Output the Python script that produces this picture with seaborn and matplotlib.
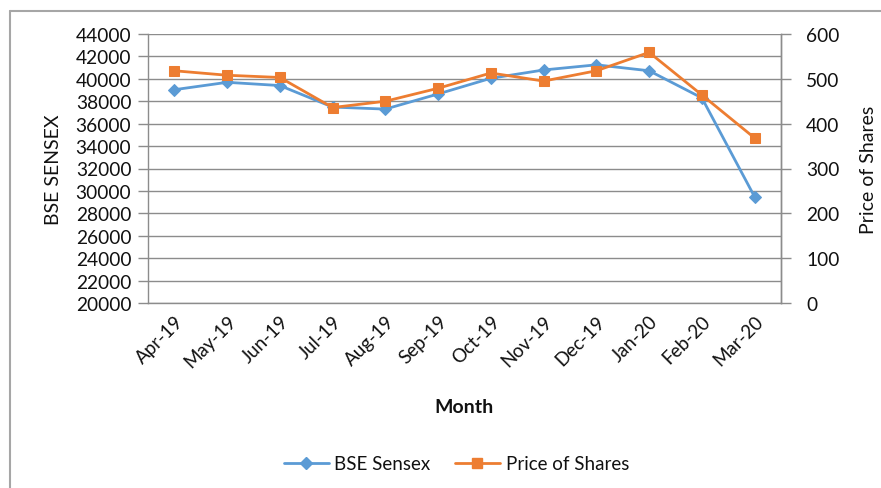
import seaborn as sns
import pandas as pd
import matplotlib.pyplot as plt
from matplotlib.lines import Line2D

months = ['Apr-19', 'May-19', 'Jun-19', 'Jul-19', 'Aug-19', 'Sep-19',
          'Oct-19', 'Nov-19', 'Dec-19', 'Jan-20', 'Feb-20', 'Mar-20']
sensex = [39030, 39690, 39400, 37480, 37300, 38650,
          40050, 40790, 41250, 40720, 38300, 29470]
price = [518, 508, 503, 436, 450, 479, 513, 495, 518, 559, 464, 368]

blue = '#5B9BD5'
orange = '#ED7D31'
grid_c = '#8C8C8C'
txt_c = '#111111'

sns.set_style('white')
plt.rcParams['font.family'] = ['Lato', 'DejaVu Sans']

df = pd.DataFrame({'Month': months, 'BSE Sensex': sensex, 'Price of Shares': price})

fig = plt.figure(figsize=(8.81, 4.89), dpi=100)
ax = fig.add_axes([148 / 881, 1 - 304 / 489, (781 - 148) / 881, (304 - 35) / 489])
ax2 = ax.twinx()

sns.lineplot(data=df, x='Month', y='BSE Sensex', sort=False, ax=ax, color=blue,
             marker='D', markersize=6.5, markeredgecolor=blue, linewidth=2, zorder=3)
sns.lineplot(data=df, x='Month', y='Price of Shares', sort=False, ax=ax2, color=orange,
             marker='s', markersize=7.5, markeredgecolor=orange, linewidth=2, zorder=3)

ax.set_xlim(-0.5, len(months) - 0.5)
ax.set_ylim(20000, 44000)
ax.set_yticks(range(20000, 44001, 2000))
ax2.set_ylim(0, 600)
ax2.set_yticks(range(0, 601, 100))

ax.grid(axis='y', color=grid_c, linewidth=1)
ax.set_axisbelow(True)
for a in (ax, ax2):
    for s in a.spines.values():
        s.set_color(grid_c)
        s.set_linewidth(1)
    a.spines['top'].set_visible(False)
ax2.spines['left'].set_visible(False)
ax2.spines['bottom'].set_visible(False)

ax.tick_params(axis='y', which='both', left=True, length=7, color=grid_c, width=1,
               labelsize=13.8, pad=5, labelcolor=txt_c)
ax.tick_params(axis='x', bottom=False, labelsize=13.5, labelcolor=txt_c, pad=3)
ax2.tick_params(axis='y', right=True, length=7, color=grid_c, width=1,
                labelsize=13.8, pad=11, labelcolor=txt_c)
plt.setp(ax.get_xticklabels(), rotation=45, ha='right', rotation_mode='anchor')

ax.set_xlabel('Month', fontsize=14, fontweight='bold', labelpad=20, color=txt_c)
ax.set_ylabel('BSE SENSEX', fontsize=14, labelpad=10, color=txt_c)
ax2.set_ylabel('Price of Shares', fontsize=14, labelpad=15, color=txt_c)

handles = [Line2D([], [], color=blue, marker='D', markersize=6, linewidth=2),
           Line2D([], [], color=orange, marker='s', markersize=7, linewidth=2)]
if ax.get_legend():
    ax.get_legend().remove()
if ax2.get_legend():
    ax2.get_legend().remove()
fig.legend(handles, ['BSE Sensex', 'Price of Shares'], loc='center',
           bbox_to_anchor=(0.518, 1 - 465 / 489), ncol=2, frameon=False,
           fontsize=13.5, handlelength=2.4, columnspacing=1.3, handletextpad=0.3,
           labelcolor=txt_c)

# chart area border (left and top edges)
fig.add_artist(Line2D([10 / 881, 10 / 881], [0, 1 - 12 / 489], color='#A6A6A6', linewidth=1.5,
                      transform=fig.transFigure))
fig.add_artist(Line2D([10 / 881, 1], [1 - 12 / 489, 1 - 12 / 489], color='#A6A6A6', linewidth=1.5,
                      transform=fig.transFigure))

fig.savefig('out.png', dpi=100)
